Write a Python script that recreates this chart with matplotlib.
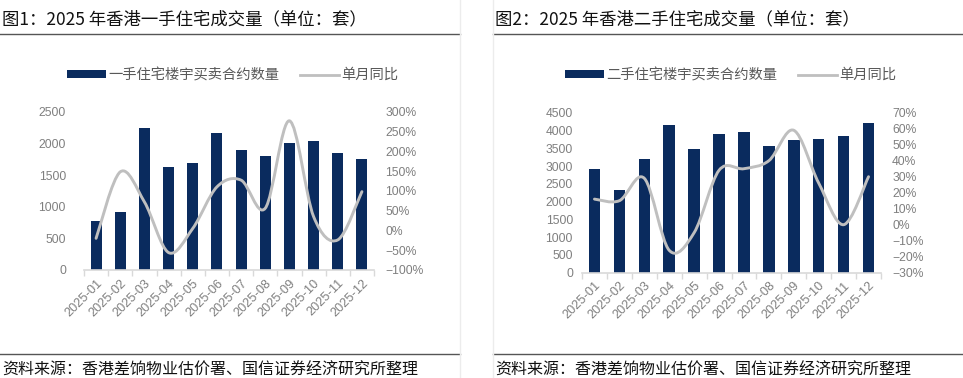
import numpy as np
import matplotlib
matplotlib.use('Agg')
import matplotlib.pyplot as plt
from matplotlib.path import Path
from matplotlib.patches import PathPatch, Patch
from matplotlib.lines import Line2D

# ---------------- data ----------------
months = ['2025-01', '2025-02', '2025-03', '2025-04', '2025-05', '2025-06',
          '2025-07', '2025-08', '2025-09', '2025-10', '2025-11', '2025-12']
new_units = [780, 920, 2250, 1630, 1690, 2160, 1890, 1800, 2000, 2040, 1850, 1750]
new_yoy = [-20, 148, 72, -56, 5, 110, 127, 56, 277, 35, -24, 98]
second_units = [2910, 2340, 3210, 4160, 3470, 3890, 3970, 3560, 3730, 3750, 3840, 4200]
second_yoy = [16, 15, 29, -16, -5, 34, 35, 40, 59, 26, 0, 30]

title1 = '图1：2025 年香港一手住宅成交量（单位：套）'
title2 = '图2：2025 年香港二手住宅成交量（单位：套）'
legend1 = ['一手住宅楼宇买卖合约数量', '单月同比']
legend2 = ['二手住宅楼宇买卖合约数量', '单月同比']
source = '资料来源：香港差饷物业估价署、国信证券经济研究所整理'

left1_ticks = [0, 500, 1000, 1500, 2000, 2500]
right1_ticks = [-100, -50, 0, 50, 100, 150, 200, 250, 300]
left2_ticks = [0, 500, 1000, 1500, 2000, 2500, 3000, 3500, 4000, 4500]
right2_ticks = [-30, -20, -10, 0, 10, 20, 30, 40, 50, 60, 70]

# ---------------- style ----------------
NAVY = '#0a2b5e'
LGRAY = '#bfbfbf'
TICKC = '#7f7f7f'
AXC = '#d9d9d9'
plt.rcParams['font.family'] = ['Liberation Sans', 'Noto Sans CJK SC']
CJK = ['Noto Sans CJK SC', 'Liberation Sans']

W, H = 963, 378
fig = plt.figure(figsize=(W / 100, H / 100), dpi=100)


def px_axes(l, t, r, b):
    return fig.add_axes([l / W, 1 - b / H, (r - l) / W, (b - t) / H])


def smooth_path(x, y):
    pts = np.column_stack([x, y]).astype(float)
    n = len(pts)
    verts = [pts[0]]
    codes = [Path.MOVETO]
    for i in range(n - 1):
        p0 = pts[i - 1] if i > 0 else pts[i]
        p1 = pts[i]
        p2 = pts[i + 1]
        p3 = pts[i + 2] if i + 2 < n else pts[i + 1]
        c1 = p1 + (p2 - p0) / 6.0
        c2 = p2 - (p3 - p1) / 6.0
        verts += [c1, c2, p2]
        codes += [Path.CURVE4] * 3
    return Path(verts, codes)


def pct(v):
    return (f'{v}%').replace('-', '\u2212')


def panel(box, units, yoy, lticks, rticks, lpad, rpad, leg_labels, leg_pos):
    l, t, r, b = box
    ax = px_axes(l, t, r, b)
    x = np.arange(len(months))
    ax.bar(x, units, width=0.46, color=NAVY, zorder=2)
    ax.set_xlim(-0.5, len(months) - 0.5)
    ax.set_ylim(lticks[0], lticks[-1])
    ax.set_yticks(lticks)
    ax.set_yticklabels([str(v) for v in lticks])
    ax.set_xticks(x)
    ax.set_xticklabels(months, rotation=45, ha='right', va='top',
                       rotation_mode='anchor')
    ax.set_xticks(np.arange(-0.5, len(months)), minor=True)
    ax.tick_params(axis='x', which='major', length=0, pad=5,
                   labelsize=9.2, labelcolor=TICKC)
    ax.tick_params(axis='x', which='minor', length=4, color=AXC, width=1)
    ax.tick_params(axis='y', length=0, pad=lpad, labelsize=8.7,
                   labelcolor=TICKC)
    for s in ['left', 'right', 'top']:
        ax.spines[s].set_visible(False)
    ax.spines['bottom'].set_color(AXC)
    ax.spines['bottom'].set_linewidth(1.2)

    ax2 = ax.twinx()
    ax2.set_ylim(rticks[0], rticks[-1])
    ax2.set_yticks(rticks)
    ax2.set_yticklabels([pct(v) for v in rticks])
    ax2.tick_params(axis='y', length=0, pad=rpad, labelsize=8.7,
                    labelcolor=TICKC)
    for s in ax2.spines.values():
        s.set_visible(False)
    ax2.add_patch(PathPatch(smooth_path(x, yoy), fill=False, ec=LGRAY,
                            lw=2.1, capstyle='round', joinstyle='round',
                            zorder=3))

    handles = [Patch(facecolor=NAVY, edgecolor='none'),
               Line2D([], [], color=LGRAY, lw=2.0)]
    fig.legend(handles, leg_labels, loc='center left',
               bbox_to_anchor=(leg_pos[0] / W, 1 - leg_pos[1] / H),
               ncol=2, frameon=False, borderpad=0, borderaxespad=0,
               handlelength=2.75, handleheight=0.45, handletextpad=0.15,
               columnspacing=1.4,
               prop={'family': CJK, 'size': 10.3}, labelcolor='#595959')
    return ax


panel((84, 111.7, 374, 270), new_units, new_yoy, left1_ticks, right1_ticks,
      13, 8, legend1, (67, 75))
panel((582, 112.7, 881, 272.7), second_units, second_yoy, left2_ticks,
      right2_ticks, 6.5, 8, legend2, (565, 75))

# titles, rules, sources
for x0, x1, title in [(0, 460, title1), (493, 963, title2)]:
    fig.text((x0 + 2) / W, 1 - 19 / H, title, family=CJK, fontsize=12.5,
             color='#111111', ha='left', va='center')
    fig.add_artist(Line2D([x0 / W, x1 / W], [1 - 33.5 / H, 1 - 33.5 / H],
                          color='#555555', lw=1.0))
    fig.add_artist(Line2D([x0 / W, x1 / W], [1 - 354 / H, 1 - 354 / H],
                          color='#555555', lw=1.0))
    fig.text((x0 + 2) / W, 1 - 370 / H, source, family=CJK, fontsize=11.5,
             color='#111111', ha='left', va='center')

for xv in [460, 493]:
    fig.add_artist(Line2D([xv / W, xv / W], [0, 1], color='#ececec', lw=1.0))

fig.savefig('out.png', dpi=100)
